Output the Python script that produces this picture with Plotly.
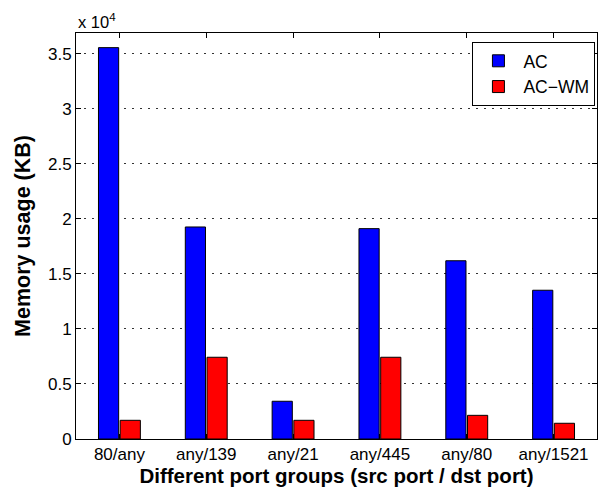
import plotly.graph_objects as go

categories = ["80/any", "any/139", "any/21", "any/445", "any/80", "any/1521"]
ac = [35570, 19270, 3430, 19120, 16200, 13520]
ac_wm = [1700, 7430, 1700, 7430, 2150, 1430]
ytick_vals = [0, 5000, 10000, 15000, 20000, 25000, 30000, 35000]
ytick_text = ["0", "0.5", "1", "1.5", "2", "2.5", "3", "3.5"]

font = "Liberation Sans, Arial, Helvetica, sans-serif"

fig = go.Figure()
fig.add_trace(go.Bar(x=categories, y=ac, name="AC",
                     marker=dict(color="#0000FF", line=dict(color="black", width=1))))
fig.add_trace(go.Bar(x=categories, y=ac_wm, name="AC\u2212WM",
                     marker=dict(color="#FF0000", line=dict(color="black", width=1))))

fig.update_layout(
    width=604, height=493,
    margin=dict(l=76, r=7, t=33, b=54),
    paper_bgcolor="white", plot_bgcolor="white",
    barmode="group", bargap=0.5, bargroupgap=0.07,
    font=dict(family=font, size=17, color="black"),
    showlegend=True,
    legend=dict(x=0.997, y=0.978, xanchor="right", yanchor="top",
                bgcolor="white", bordercolor="black", borderwidth=1,
                font=dict(size=17.5), tracegroupgap=0, itemwidth=40),
    xaxis=dict(
        showline=True, linecolor="black", linewidth=1, mirror="ticks",
        ticks="inside", ticklen=5, tickcolor="black",
        showgrid=False, range=[-0.5, 5.5],
        tickfont=dict(size=17),
        title=dict(text="<b>Different port groups (src port / dst port)</b>",
                   font=dict(size=20.5), standoff=2),
    ),
    yaxis=dict(
        showline=True, linecolor="black", linewidth=1, mirror="ticks",
        ticks="inside", ticklen=5, tickcolor="black",
        range=[0, 36900], tickvals=ytick_vals, ticktext=ytick_text,
        showgrid=True, gridcolor="#333333", griddash="2px,6px", gridwidth=1,
        zeroline=False,
        tickfont=dict(size=17),
        title=dict(text="<b>Memory usage (KB)</b>", font=dict(size=21.5), standoff=11),
    ),
)
fig.add_annotation(text="x 10<sup>4</sup>", xref="paper", yref="paper",
                   x=0, y=1, xanchor="left", yanchor="bottom", yshift=0,
                   showarrow=False, font=dict(size=16.5))

fig.write_html("out.html")
